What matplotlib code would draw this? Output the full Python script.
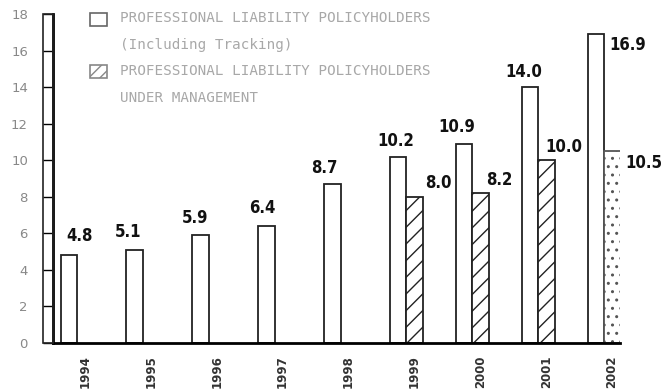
import matplotlib
matplotlib.use("Agg")
import matplotlib.pyplot as plt
from matplotlib.patches import Rectangle
import numpy as np

years = ['1994', '1995', '1996', '1997', '1998', '1999', '2000', '2001', '2002']
total = [4.8, 5.1, 5.9, 6.4, 8.7, 10.2, 10.9, 14.0, 16.9]   # incl. tracking
managed_years = ['1999', '2000', '2001', '2002']
managed = [8.0, 8.2, 10.0, 10.5]                          # under management

legend_lines = ['PROFESSIONAL LIABILITY POLICYHOLDERS', '(Including Tracking)',
                'PROFESSIONAL LIABILITY POLICYHOLDERS', 'UNDER MANAGEMENT']

# label nudges in pixels (dx, dy) from the top centre of each bar
total_off = [(11, 19), (-7, 18), (-5, 17), (-4, 18), (-8, 16), (-3, 16), (-7, 17), (-6, 15), (32, -11)]
managed_off = [(24, 14), (19, 13), (17, 13), (31, -12)]

W, H = 665, 392
fig = plt.figure(figsize=(W / 100, H / 100), dpi=100)
ax = fig.add_axes([53 / W, (H - 343) / H, (620 - 53) / W, (343 - 14) / H])

narrow = ['DejaVu Sans', 'Liberation Sans Narrow']
w = 0.25
x = np.arange(len(years))
xm = np.array([years.index(y) for y in managed_years])

b1 = ax.bar(x - w / 2, total, width=w, color='white', edgecolor='#222', linewidth=1.3)
b2 = ax.bar(xm + w / 2, managed, width=w, color='white', edgecolor='#222', linewidth=1.3, hatch='//')
# the last managed bar is printed with a stipple instead of the hatch
b2[-1].set_hatch('..')
b2[-1].set_edgecolor('#555')

for bar, v, (dx, dy) in zip(b1, total, total_off):
    ax.annotate(f'{v:.1f}', (bar.get_x() + bar.get_width() / 2, bar.get_height()),
                xytext=(dx, dy), textcoords='offset pixels', ha='center', va='center',
                fontsize=12, fontweight='bold', family=narrow, stretch='condensed', color='#111')
for bar, v, (dx, dy) in zip(b2, managed, managed_off):
    ax.annotate(f'{v:.1f}', (bar.get_x() + bar.get_width() / 2, bar.get_height()),
                xytext=(dx, dy), textcoords='offset pixels', ha='center', va='center',
                fontsize=12, fontweight='bold', family=narrow, stretch='condensed', color='#111')

ax.set_xlim(-0.364, 8.24)
ax.set_ylim(0, 18)
ax.set_xticks(x + 0.12)
ax.set_xticklabels(years, rotation=90, fontsize=8.5, fontweight='bold', family=narrow, color='#333')
ax.tick_params(axis='x', length=0, pad=9)
ax.set_yticks(np.arange(0, 19, 2))
ax.set_yticklabels([str(v) for v in range(0, 19, 2)], fontsize=9.5, family=narrow, color='#888')
ax.tick_params(axis='y', direction='out', length=7, width=1, pad=11)

for s in ['top', 'right']:
    ax.spines[s].set_visible(False)
ax.spines['bottom'].set_linewidth(2)
ax.spines['left'].set_linewidth(2)

# the y axis is drawn as a narrow open bar
fig.add_artist(Rectangle((43 / W, (H - 343) / H), 10 / W, (343 - 14) / H,
                         transform=fig.transFigure, facecolor='none', edgecolor='#222', linewidth=1.2))

# legend
fig.add_artist(Rectangle((90 / W, (H - 26) / H), 17 / W, 13 / H, transform=fig.transFigure,
                         facecolor='white', edgecolor='#666', linewidth=1.2))
fig.add_artist(Rectangle((90 / W, (H - 78) / H), 17 / W, 13 / H, transform=fig.transFigure,
                         facecolor='white', edgecolor='#888', linewidth=1.2, hatch='///'))
for txt, yy in zip(legend_lines, [18, 45, 71, 98]):
    fig.text(120 / W, (H - yy) / H, txt, fontsize=10.3, family='DejaVu Sans Mono',
             color='#a8a8a8', va='center', ha='left')

plt.savefig('out.png', dpi=100)
